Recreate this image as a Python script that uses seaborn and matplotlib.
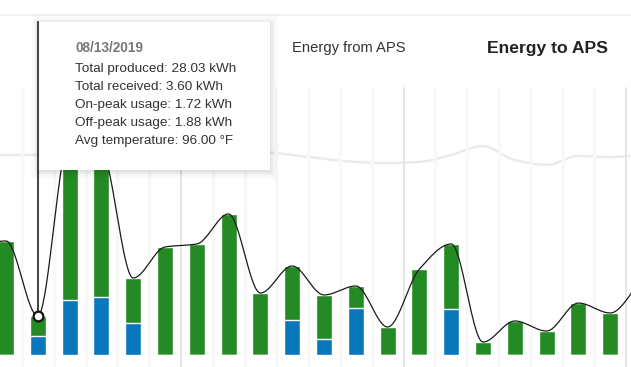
import numpy as np
import pandas as pd
import matplotlib
matplotlib.use("Agg")
import matplotlib.pyplot as plt
from matplotlib.patches import FancyBboxPatch
import seaborn as sns

# ====== DATA ======
# days 08/11 .. 09/01 (first and last are just off the visible area)
dates = ["08/11/2019", "08/12/2019", "08/13/2019", "08/14/2019", "08/15/2019",
         "08/16/2019", "08/17/2019", "08/18/2019", "08/19/2019", "08/20/2019",
         "08/21/2019", "08/22/2019", "08/23/2019", "08/24/2019", "08/25/2019",
         "08/26/2019", "08/27/2019", "08/28/2019", "08/29/2019", "08/30/2019",
         "08/31/2019", "09/01/2019"]
on_peak = [0.0, 0.0, 1.72, 5.09, 5.37, 2.96, 0.0, 0.0, 0.0, 0.0,
           3.24, 1.48, 4.35, 0.0, 0.0, 4.26, 0.0, 0.0, 0.0, 0.0,
           0.0, 0.0]
off_peak = [10.0, 10.56, 1.88, 14.91, 13.63, 4.17, 10.0, 10.28, 13.06, 5.74,
            5.00, 4.08, 2.04, 2.59, 7.96, 6.02, 1.20, 3.15, 2.22, 4.81,
            3.89, 7.0]
avg_temp = [96.0, 96.0, 96.0, 96.7, 97.0, 97.3, 97.7, 97.3, 97.0, 97.0,
            96.0, 94.7, 93.7, 93.3, 93.7, 96.0, 99.0, 94.3, 92.7, 95.7,
            95.3, 96.0]

hover_idx = 2
tip_lines = ["Total produced: 28.03 kWh",
             "Total received: 3.60 kWh",
             "On-peak usage: 1.72 kWh",
             "Off-peak usage: 1.88 kWh",
             "Avg temperature: 96.00 \u00b0F"]
legend_labels = ["Energy from APS", "Energy to APS"]

GREEN = "#248a24"
BLUE = "#0a77bd"

df = pd.DataFrame({"date": dates, "on": on_peak, "off": off_peak, "temp": avg_temp})
df["pos"] = np.arange(len(df)) - 1
df["total"] = df["on"] + df["off"]


def pchip(x, y, xs):
    # monotone cubic smoothing, like the spline of the web chart
    x = np.asarray(x, float)
    y = np.asarray(y, float)
    h = np.diff(x)
    dl = np.diff(y) / h
    d = np.zeros_like(y)
    d[0], d[-1] = dl[0], dl[-1]
    for k in range(1, len(y) - 1):
        if dl[k - 1] * dl[k] > 0:
            w1 = 2 * h[k] + h[k - 1]
            w2 = h[k] + 2 * h[k - 1]
            d[k] = (w1 + w2) / (w1 / dl[k - 1] + w2 / dl[k])
    idx = np.clip(np.searchsorted(x, xs) - 1, 0, len(x) - 2)
    t = (xs - x[idx]) / h[idx]
    h00 = 2 * t**3 - 3 * t**2 + 1
    h10 = t**3 - 2 * t**2 + t
    h01 = -2 * t**3 + 3 * t**2
    h11 = t**3 - t**2
    return h00 * y[idx] + h10 * h[idx] * d[idx] + h01 * y[idx + 1] + h11 * h[idx] * d[idx + 1]


# ====== FIGURE ======
W, H = 631, 367
sns.set_style("white")
plt.rcParams["font.family"] = ["Liberation Sans", "DejaVu Sans"]

fig = plt.figure(figsize=(W / 100, H / 100), dpi=100)
ax = fig.add_axes([0, 0, 1, 1])

# pixel mapping of the visible window
XLIM = (-6 / 31.8, (W - 6) / 31.8)
YLIM = (-(H - 355) / 10.8, 355 / 10.8)
ax.set_xlim(*XLIM)
ax.set_ylim(*YLIM)

# vertical grid bands
for p in df["pos"].values[:-1]:
    weekly = (p - 5) % 7 == 0
    ax.axvline(p + 0.5, ymin=0, ymax=1 - 88 / H,
               color="#e4e4e4" if weekly else "#f8f8f8",
               lw=1.3 if weekly else 2.5, zorder=0)

# temperature line on its own scale
ax2 = ax.twinx()
ax2.set_ylim(96 - (H - 155) / 3, 96 + 155 / 3)
xs = np.linspace(df["pos"].min(), df["pos"].max(), 800)
sns.lineplot(x=xs, y=pchip(df["pos"], df["temp"], xs), ax=ax2,
             color="#ebebeb", lw=1.8, zorder=1)
ax2.set_axis_off()
ax.set_zorder(ax2.get_zorder() + 1)
ax.patch.set_visible(False)

# stacked bars: total in green, on-peak in blue at the bottom
sns.barplot(data=df, x="pos", y="total", native_scale=True, width=0.5,
            color=GREEN, saturation=1, ax=ax, zorder=2)
sns.barplot(data=df, x="pos", y="on", native_scale=True, width=0.5,
            color=BLUE, saturation=1, ax=ax, zorder=3)

# smooth total line
sns.lineplot(x=xs, y=pchip(df["pos"], df["total"], xs), ax=ax,
             color="#1a1a1a", lw=0.9, zorder=4)

ax.set_xlim(*XLIM)
ax.set_ylim(*YLIM)
ax.set_axis_off()

# hover cursor + marker
hov = df.iloc[hover_idx]
ax.axvline(hov["pos"], ymin=(hov["total"] - YLIM[0]) / (YLIM[1] - YLIM[0]),
           ymax=1 - 22 / H, color="#4a4a4a", lw=1.5, zorder=5)
ax.plot(hov["pos"], hov["total"], "o", ms=7, mfc="white", mec="#111111",
        mew=1.6, zorder=6)

# faint top border
fig.add_artist(plt.Line2D([0, 1], [1 - 15 / H, 1 - 15 / H], color="#efefef", lw=1.2))


def fx(px):
    return px / W


def fy(py):
    return 1 - py / H


# tooltip shadow + box
bx0, bx1, by0, by1 = 39, 270, 22, 170
for k, a in zip([8, 6, 4, 2.5, 1], [0.010, 0.015, 0.02, 0.03, 0.04]):
    fig.add_artist(FancyBboxPatch((fx(bx0 - k), fy(by1 + k + 1)),
                                  (bx1 - bx0 + 2 * k) / W, (by1 - by0 + 2 * k) / H,
                                  boxstyle="square,pad=0", transform=fig.transFigure,
                                  fc="black", ec="none", alpha=a, zorder=9))
fig.add_artist(FancyBboxPatch((fx(bx0), fy(by1)), (bx1 - bx0) / W, (by1 - by0) / H,
                              boxstyle="square,pad=0", transform=fig.transFigure,
                              fc="white", ec="none", zorder=10))
fig.add_artist(plt.Line2D([fx(38), fx(38)], [fy(22), fy(by1)], color="#4a4a4a",
                          lw=1.5, zorder=11))

fig.text(fx(75), fy(48), hov["date"], fontsize=9.8, fontweight="bold",
         color="#777777", va="center", zorder=12)
for i, line in enumerate(tip_lines):
    fig.text(fx(75), fy(69 + 18 * i), line, fontsize=9.7, color="#333333",
             va="center", zorder=12)

# legend labels
fig.text(fx(292), fy(48), legend_labels[0], fontsize=10.6, color="#333333",
         va="center")
fig.text(fx(487), fy(48), legend_labels[1], fontsize=12.6, fontweight="bold",
         color="#222222", va="center")

fig.savefig("out.png", dpi=100)
plt.close(fig)
